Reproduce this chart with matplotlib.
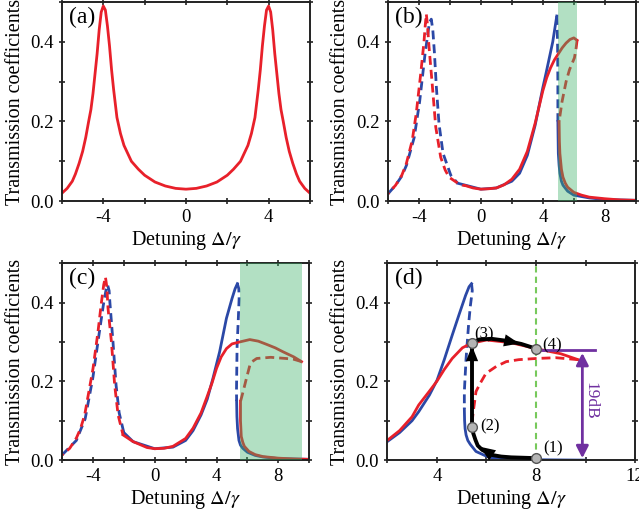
import matplotlib
matplotlib.use("Agg")
import matplotlib.pyplot as plt
from matplotlib.ticker import MultipleLocator

plt.rcParams['font.family'] = ['Liberation Serif', 'DejaVu Serif']
plt.rcParams['mathtext.fontset'] = 'stix'
plt.rcParams['axes.unicode_minus'] = False

RED = '#e8202a'
BLUE = '#2b48a6'
PURPLE = '#7030a0'
DASH = (0, (3.2, 1.8))
DASH2 = (2.5, (3.2, 1.8))

# ---- panel (a) ----
a_x = [-6, -5.75, -5.5, -5.35, -5.17, -5.0, -4.85, -4.71, -4.6, -4.5, -4.4, -4.3, -4.2, -4.1, -4.0,
       -3.9, -3.8, -3.7, -3.6, -3.5, -3.34, -3.17, -3.0, -2.64, -2.3, -2.0, -1.5, -1.0, -0.5,
       0, 0.5, 1.0, 1.5, 2.0, 2.3, 2.64, 3.0, 3.17, 3.34, 3.5, 3.6, 3.7, 3.8, 3.9, 4.0,
       4.1, 4.2, 4.3, 4.4, 4.5, 4.6, 4.71, 4.85, 5.0, 5.17, 5.35, 5.5, 5.75, 6]
a_y = [0.02, 0.032, 0.05, 0.068, 0.095, 0.125, 0.16, 0.20, 0.23, 0.27, 0.32, 0.37, 0.43, 0.475, 0.49,
       0.48, 0.44, 0.39, 0.33, 0.28, 0.21, 0.17, 0.14, 0.10, 0.08, 0.065, 0.048, 0.038, 0.032,
       0.03, 0.032, 0.038, 0.048, 0.065, 0.08, 0.10, 0.14, 0.17, 0.21, 0.28, 0.33, 0.39, 0.44, 0.48, 0.49,
       0.475, 0.43, 0.37, 0.32, 0.27, 0.23, 0.20, 0.16, 0.125, 0.095, 0.068, 0.05, 0.032, 0.02]

# ---- panel (b) ----
b_red_left_x = [-6, -5.5, -5.1, -4.81, -4.43, -4.17, -3.88, -3.67, -3.58, -3.52, -3.45, -3.35, -3.13,
                -2.91, -2.59, -2.3, -2.05, -1.6, -1.19, -1.0]
b_red_left_y = [0.018, 0.04, 0.065, 0.094, 0.152, 0.22, 0.32, 0.40, 0.445, 0.47, 0.445, 0.39, 0.29,
                0.186, 0.11, 0.078, 0.06, 0.048, 0.04, 0.039]
b_red_up_x = [-1.0, -0.5, 0, 0.5, 1, 1.5, 2, 2.5, 3, 3.5, 4, 4.25, 4.5, 4.75, 5, 5.25, 5.5, 5.75, 6.0, 6.21]
b_red_up_y = [0.039, 0.033, 0.03, 0.031, 0.033, 0.041, 0.055, 0.08, 0.125, 0.195, 0.277, 0.31, 0.335,
              0.355, 0.37, 0.385, 0.397, 0.406, 0.41, 0.404]
b_red_mid_x = [6.21, 6.15, 6.04, 5.88, 5.72, 5.5, 5.24, 5.05]
b_red_mid_y = [0.404, 0.385, 0.36, 0.345, 0.33, 0.30, 0.25, 0.20]
b_red_low_x = [5.05, 5.07, 5.1, 5.2, 5.3, 5.45, 5.6, 6.0, 6.5, 7, 8, 9, 10]
b_red_low_y = [0.20, 0.15, 0.12, 0.08, 0.06, 0.045, 0.035, 0.022, 0.015, 0.01, 0.006, 0.003, 0.002]
b_blue_left_x = [-6, -5.5, -5.1, -4.8, -4.3, -3.95, -3.6, -3.35, -3.27, -3.2, -3.1, -3.0, -2.87,
                 -2.7, -2.44, -1.94, -1.5]
b_blue_left_y = [0.018, 0.04, 0.063, 0.09, 0.16, 0.25, 0.37, 0.44, 0.452, 0.457, 0.43, 0.375, 0.286,
                 0.194, 0.12, 0.065, 0.045]
b_blue_up_x = [-1.5, -1, 0, 1, 2, 2.5, 3, 3.5, 4, 4.2, 4.42, 4.64, 4.8, 4.9]
b_blue_up_y = [0.045, 0.04, 0.03, 0.033, 0.05, 0.07, 0.115, 0.19, 0.285, 0.32, 0.36, 0.40, 0.44, 0.465]
b_blue_mid_x = [4.9, 4.95, 4.97, 4.97]
b_blue_mid_y = [0.465, 0.40, 0.30, 0.20]
b_blue_low_x = [4.97, 5.0, 5.05, 5.1, 5.2, 5.3, 5.6, 6, 7, 8, 10]
b_blue_low_y = [0.20, 0.12, 0.09, 0.07, 0.05, 0.04, 0.025, 0.015, 0.008, 0.004, 0.002]
b_band = (4.95, 6.2)

# ---- panel (c) ----
c_red_left_x = [-6, -5.5, -5.07, -4.8, -4.53, -3.99, -3.67, -3.45, -3.3, -3.19, -3.1, -3.02, -2.8,
                -2.59, -2.37, -2.05]
c_red_left_y = [0.013, 0.03, 0.056, 0.08, 0.115, 0.233, 0.326, 0.40, 0.445, 0.465, 0.44, 0.385, 0.30,
                0.19, 0.115, 0.064]
c_red_up_x = [-2.05, -1.4, -0.5, 0, 0.6, 1.18, 2, 2.48, 3, 3.35, 3.7, 4.0, 4.3, 4.64, 5.0, 5.5, 6.15,
              6.7, 7.23, 7.8, 8.3, 9.0, 9.5]
c_red_up_y = [0.064, 0.047, 0.032, 0.029, 0.03, 0.035, 0.055, 0.081, 0.12, 0.157, 0.195, 0.233, 0.262,
              0.283, 0.295, 0.30, 0.306, 0.302, 0.294, 0.285, 0.275, 0.262, 0.25]
c_red_mid_x = [9.5, 9.0, 8.5, 7.5, 6.6, 6.3, 6.15, 5.93, 5.72, 5.55]
c_red_mid_y = [0.25, 0.256, 0.258, 0.261, 0.258, 0.25, 0.24, 0.207, 0.174, 0.149]
c_red_low_x = [5.55, 5.55, 5.6, 5.7, 5.8, 6.1, 6.5, 7, 8, 9, 10]
c_red_low_y = [0.149, 0.10, 0.06, 0.045, 0.035, 0.022, 0.014, 0.009, 0.005, 0.003, 0.002]
c_blue_left_x = [-6, -5.07, -4.5, -4.0, -3.6, -3.3, -3.15, -3.05, -2.95, -2.9, -2.7, -2.5, -2.3, -2.0]
c_blue_left_y = [0.013, 0.05, 0.105, 0.21, 0.32, 0.40, 0.432, 0.445, 0.43, 0.40, 0.30, 0.19, 0.12, 0.07]
c_blue_up_x = [-2.0, -1.4, 0, 1.18, 2, 2.48, 3, 3.4, 3.77, 4.2, 4.64, 5.0, 5.2, 5.35]
c_blue_up_y = [0.07, 0.047, 0.029, 0.033, 0.05, 0.075, 0.115, 0.155, 0.208, 0.275, 0.36, 0.41, 0.435, 0.448]
c_blue_mid_x = [5.35, 5.44, 5.46, 5.4, 5.33, 5.29, 5.3]
c_blue_mid_y = [0.448, 0.435, 0.41, 0.35, 0.29, 0.174, 0.15]
c_blue_low_x = [5.3, 5.32, 5.36, 5.45, 5.55, 5.7, 6, 6.5, 7, 8, 10]
c_blue_low_y = [0.15, 0.11, 0.08, 0.05, 0.038, 0.03, 0.02, 0.012, 0.008, 0.004, 0.002]
c_band = (5.5, 9.5)

# ---- panel (d) ----
d_blue_up_x = [2, 2.5, 3.0, 3.27, 3.7, 4.01, 4.3, 4.62, 4.9, 5.16, 5.3, 5.4]
d_blue_up_y = [0.047, 0.07, 0.10, 0.123, 0.165, 0.203, 0.255, 0.317, 0.37, 0.418, 0.44, 0.448]
d_blue_mid_x = [5.4, 5.43, 5.35, 5.28, 5.18, 5.11, 5.11]
d_blue_mid_y = [0.448, 0.43, 0.39, 0.343, 0.258, 0.174, 0.13]
d_blue_low_x = [5.11, 5.12, 5.14, 5.18, 5.25, 5.35, 5.58, 6.0, 6.25, 7, 8, 10]
d_blue_low_y = [0.13, 0.10, 0.08, 0.064, 0.05, 0.04, 0.022, 0.01, 0.005, 0.002, 0.001, 0.0]
d_red_up_x = [2, 2.5, 3.0, 3.27, 3.7, 4.0, 4.3, 4.62, 5.03, 5.37, 6.0, 7.0, 8.0, 9.0, 9.7]
d_red_up_y = [0.05, 0.075, 0.11, 0.14, 0.175, 0.2, 0.23, 0.258, 0.285, 0.296, 0.305, 0.298, 0.283, 0.27, 0.255]
d_red_mid_x = [9.7, 8.8, 8.0, 7.3, 6.8, 6.4, 5.98, 5.75, 5.58, 5.47, 5.41]
d_red_mid_y = [0.255, 0.26, 0.258, 0.255, 0.25, 0.238, 0.22, 0.195, 0.174, 0.123, 0.09]

path12_x = [8.0, 7.0, 6.6, 6.23, 5.83, 5.65, 5.56, 5.47, 5.43]
path12_y = [0.005, 0.007, 0.009, 0.013, 0.026, 0.037, 0.051, 0.068, 0.085]
path23_x = [5.42, 5.42]
path23_y = [0.085, 0.296]
path34_x = [5.42, 5.7, 6.2, 6.8, 7.4, 8.0]
path34_y = [0.298, 0.306, 0.308, 0.303, 0.295, 0.283]

pt_x = [8.0, 5.42, 5.42, 8.0]
pt_y = [0.005, 0.085, 0.298, 0.283]
pt_labels = ['(1)', '(2)', '(3)', '(4)']
pt_label_x = [8.3, 5.76, 5.52, 8.27]
pt_label_y = [0.03, 0.085, 0.318, 0.29]

fig = plt.figure(figsize=(6.39, 5.17), dpi=100)
ax_a = fig.add_axes([0.097, 0.611, 0.388, 0.385])
ax_b = fig.add_axes([0.607, 0.611, 0.388, 0.385])
ax_c = fig.add_axes([0.097, 0.110, 0.387, 0.381])
ax_d = fig.add_axes([0.606, 0.110, 0.388, 0.381])


def style(ax, xlim, xticks, label):
    ax.set_xlim(*xlim)
    ax.set_ylim(0, 0.5)
    ax.set_xticks(xticks)
    ax.set_xticklabels([str(t) for t in xticks])
    ax.set_yticks([0.0, 0.2, 0.4])
    ax.xaxis.set_minor_locator(MultipleLocator(2))
    ax.yaxis.set_minor_locator(MultipleLocator(0.1))
    ax.tick_params(which='both', direction='inout', top=True, right=True,
                   labelsize=13.5, width=1.2, color='#222222')
    ax.tick_params(which='major', length=5)
    ax.tick_params(which='minor', length=4)
    for s in ax.spines.values():
        s.set_linewidth(1.4)
        s.set_color('#222222')
    ax.set_xlabel(r'Detuning $\Delta/\gamma$', fontsize=14.5, labelpad=2)
    ax.set_ylabel('Transmission coefficients', fontsize=14.5, labelpad=4)
    ax.text(0.03, 0.975, label, transform=ax.transAxes, fontsize=17, va='top', ha='left', zorder=6)


lw = 2.0
ax_a.plot(a_x, a_y, color=RED, lw=lw)
style(ax_a, (-6, 6), [-4, 0, 4], '(a)')

for ax, d in [(ax_b, dict(bl=(b_blue_left_x, b_blue_left_y), bu=(b_blue_up_x, b_blue_up_y),
                          bm=(b_blue_mid_x, b_blue_mid_y), bw=(b_blue_low_x, b_blue_low_y),
                          rl=(b_red_left_x, b_red_left_y), ru=(b_red_up_x, b_red_up_y),
                          rm=(b_red_mid_x, b_red_mid_y), rw=(b_red_low_x, b_red_low_y), band=b_band)),
              (ax_c, dict(bl=(c_blue_left_x, c_blue_left_y), bu=(c_blue_up_x, c_blue_up_y),
                          bm=(c_blue_mid_x, c_blue_mid_y), bw=(c_blue_low_x, c_blue_low_y),
                          rl=(c_red_left_x, c_red_left_y), ru=(c_red_up_x, c_red_up_y),
                          rm=(c_red_mid_x, c_red_mid_y), rw=(c_red_low_x, c_red_low_y), band=c_band))]:
    ax.plot(*d['bl'], color=BLUE, lw=lw, ls=DASH)
    ax.plot(*d['bu'], color=BLUE, lw=lw)
    ax.plot(*d['bm'], color=BLUE, lw=lw, ls=DASH)
    ax.plot(*d['bw'], color=BLUE, lw=lw)
    ax.plot(*d['rl'], color=RED, lw=lw, ls=DASH2)
    ax.plot(*d['ru'], color=RED, lw=lw)
    ax.plot(*d['rm'], color=RED, lw=lw, ls=DASH)
    ax.plot(*d['rw'], color=RED, lw=lw)
    ax.axvspan(*d['band'], color='#3fb26a', alpha=0.4, lw=0, zorder=4)

style(ax_b, (-6, 10), [-4, 0, 4, 8], '(b)')
style(ax_c, (-6, 10), [-4, 0, 4, 8], '(c)')

# panel (d)
ax_d.axvline(8, color='#77c95c', lw=1.5, ls=(0, (3, 2)), zorder=1)
ax_d.plot(d_blue_up_x, d_blue_up_y, color=BLUE, lw=lw)
ax_d.plot(d_blue_mid_x, d_blue_mid_y, color=BLUE, lw=lw, ls=DASH)
ax_d.plot(d_blue_low_x, d_blue_low_y, color=BLUE, lw=lw)
ax_d.plot(d_red_up_x, d_red_up_y, color=RED, lw=lw)
ax_d.plot(d_red_mid_x, d_red_mid_y, color=RED, lw=lw, ls=DASH)

for px, py in [(path12_x, path12_y), (path23_x, path23_y), (path34_x, path34_y)]:
    ax_d.plot(px, py, color='black', lw=2.8, zorder=5, solid_capstyle='round')
arrow_kw = dict(arrowstyle='-|>,head_length=0.55,head_width=0.22', mutation_scale=20, color='black',
                lw=0, shrinkA=0, shrinkB=0)
ax_d.annotate('', xy=(5.74, 0.034), xytext=(6.23, 0.013), arrowprops=arrow_kw, zorder=5)
ax_d.annotate('', xy=(5.42, 0.29), xytext=(5.42, 0.20), arrowprops=arrow_kw, zorder=5)
ax_d.annotate('', xy=(7.33, 0.296), xytext=(6.8, 0.303), arrowprops=arrow_kw, zorder=5)

ax_d.plot(pt_x, pt_y, 'o', ms=7, mfc='#b4b4b4', mec='#555555', mew=1, zorder=6, clip_on=False)
for t, lx, ly in zip(pt_labels, pt_label_x, pt_label_y):
    ax_d.text(lx, ly, t, fontsize=12, va='center', ha='left', zorder=6)

ax_d.plot([8.0, 10.38], [0.28, 0.28], color=PURPLE, lw=2, zorder=4)
ax_d.annotate('', xy=(9.87, 0.005), xytext=(9.87, 0.272),
              arrowprops=dict(arrowstyle='<|-|>,head_length=0.55,head_width=0.28', mutation_scale=13,
                              color=PURPLE, lw=2, shrinkA=0, shrinkB=0))
ax_d.text(10.2, 0.15, '19dB', color=PURPLE, fontsize=12.5, rotation=270, va='center', ha='center')

style(ax_d, (2, 12), [4, 8, 12], '(d)')

fig.savefig('out.png', dpi=100)
